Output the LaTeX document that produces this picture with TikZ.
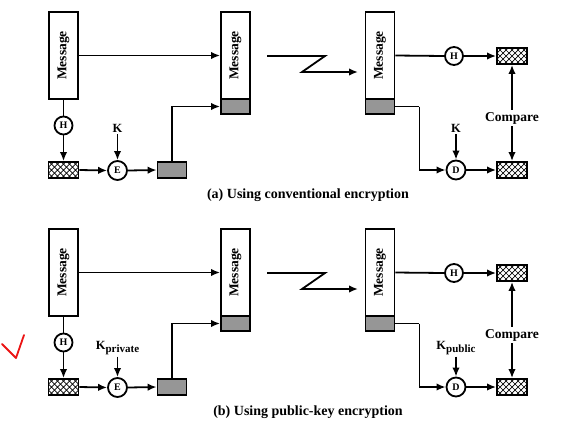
\documentclass[tikz,border=0pt]{standalone}
\usepackage{fontspec}
\setmainfont{Liberation Serif}
\usetikzlibrary{arrows.meta}
\definecolor{boxgray}{RGB}{150,150,150}
\definecolor{checkred}{RGB}{235,20,20}
\tikzset{
  conn/.style={line width=1.8},
  arr/.style={conn,-{Latex[length=9,width=7.5]}},
  msgbox/.style={draw,line width=1.8,fill=white,inner sep=0,minimum width=29,minimum height=87},
  graybox/.style={draw,line width=1.8,fill=boxgray,inner sep=0,minimum width=29,minimum height=15},
  opcirc/.style={draw,circle,line width=1.8,fill=white,inner sep=0,minimum size=18,font=\fontsize{10}{10}\selectfont\bfseries},
  hatchbox/.style={draw,line width=1.8,fill=white,inner sep=0,minimum width=30,minimum height=16,
    path picture={
      \foreach \i in {-42,-36,...,42}{
        \draw[line width=0.7] (path picture bounding box.center) ++(\i-12,-12) -- ++(24,24) ++(-24,0) -- ++(24,-24);
      }
    }},
  lbl/.style={inner sep=0,font=\fontsize{13.5}{13.5}\selectfont\bfseries},
  keylbl/.style={inner sep=0,font=\fontsize{12.5}{12.5}\selectfont\bfseries},
  caption/.style={inner sep=0,font=\fontsize{14}{14}\selectfont\bfseries},
}
\newcommand\sigpanel[5]{%
  % #1 prefix, #2 y offset, #3 sender key, #4 receiver key, #5 caption
  \begin{scope}[yshift=-#2]
  \node[msgbox] (#1m1) at (63.5,55.5) {};
  \node[lbl,rotate=90] (#1t1) at (#1m1) {Message};
  \node[msgbox] (#1m2) at (235.5,55.5) {};
  \node[lbl,rotate=90] (#1t2) at (#1m2) {Message};
  \node[graybox] (#1g2) at (235.5,106.5) {};
  \node[msgbox] (#1m3) at (380,55.5) {};
  \node[lbl,rotate=90] (#1t3) at (#1m3) {Message};
  \node[graybox] (#1g3) at (380,106.5) {};
  \node[opcirc] (#1h1) at (63.5,125.5) {H};
  \node[hatchbox] (#1hb1) at (63.5,170) {};
  \node[opcirc,minimum size=19] (#1e) at (117.5,170.5) {E};
  \node[keylbl,anchor=base] (#1k1) at (117.5,132) {#3};
  \node[graybox,minimum height=16] (#1s1) at (172,170) {};
  \node[opcirc] (#1h2) at (454,56) {H};
  \node[hatchbox] (#1hb2) at (512,56) {};
  \node[hatchbox] (#1hb3) at (512,170) {};
  \node[opcirc,minimum size=19] (#1d) at (456,170) {D};
  \node[keylbl,anchor=base] (#1k2) at (456,132) {#4};
  \node[lbl] (#1cmp) at (512,118) {Compare};
  \node[caption] (#1cap) at (308,195) {#5};
  \coordinate (#1z1) at (267,56);
  \coordinate (#1z2) at (325,56);
  \coordinate (#1z3) at (302,72);
  \coordinate (#1z4) at (358,72);
  \draw[arr] (#1m1.east) -- (#1m2.west);
  \draw[conn] (#1m1.south) -- (#1h1.north);
  \draw[arr] (#1h1.south) -- (#1hb1.north);
  \draw[arr] (#1hb1.east) -- (#1e.west);
  \draw[arr] (#1k1.south) ++(0,2) -- (#1e.north);
  \draw[arr] (#1e.east) -- (#1s1.west);
  \draw[arr] (#1s1.north) |- (#1g2.west);
  \draw[arr] (#1z1) -- (#1z2) -- (#1z3) -- (#1z4);
  \draw[conn] (#1m3.east) -- (#1h2.west);
  \draw[arr] (#1h2.east) -- (#1hb2.west);
  \draw[conn] (#1g3.east) -- ++(24,0) coordinate (#1bend);
  \draw[arr] (#1bend) |- (#1d.west);
  \draw[arr] (#1k2.south) ++(0,2) -- (#1d.north);
  \draw[arr] (#1d.east) -- (#1hb3.west);
  \draw[arr] (#1cmp.north) ++(0,-2) -- (#1hb2.south);
  \draw[arr] (#1cmp.south) ++(0,2) -- (#1hb3.north);
  \end{scope}
}
\begin{document}
\begin{tikzpicture}[x=1pt,y=-1pt]
\useasboundingbox (0,0) rectangle (580,424);
\sigpanel{a}{0}{K}{K}{(a) Using conventional encryption}
\sigpanel{b}{217}{K\raisebox{-3pt}{\fontsize{11}{11}\selectfont private}}{K\raisebox{-3pt}{\fontsize{11}{11}\selectfont public}}{(b) Using public-key encryption}
\draw[checkred,line width=1.8,line cap=round,line join=round] (2,344) -- (16,358) -- (24,335);
\end{tikzpicture}
\end{document}
